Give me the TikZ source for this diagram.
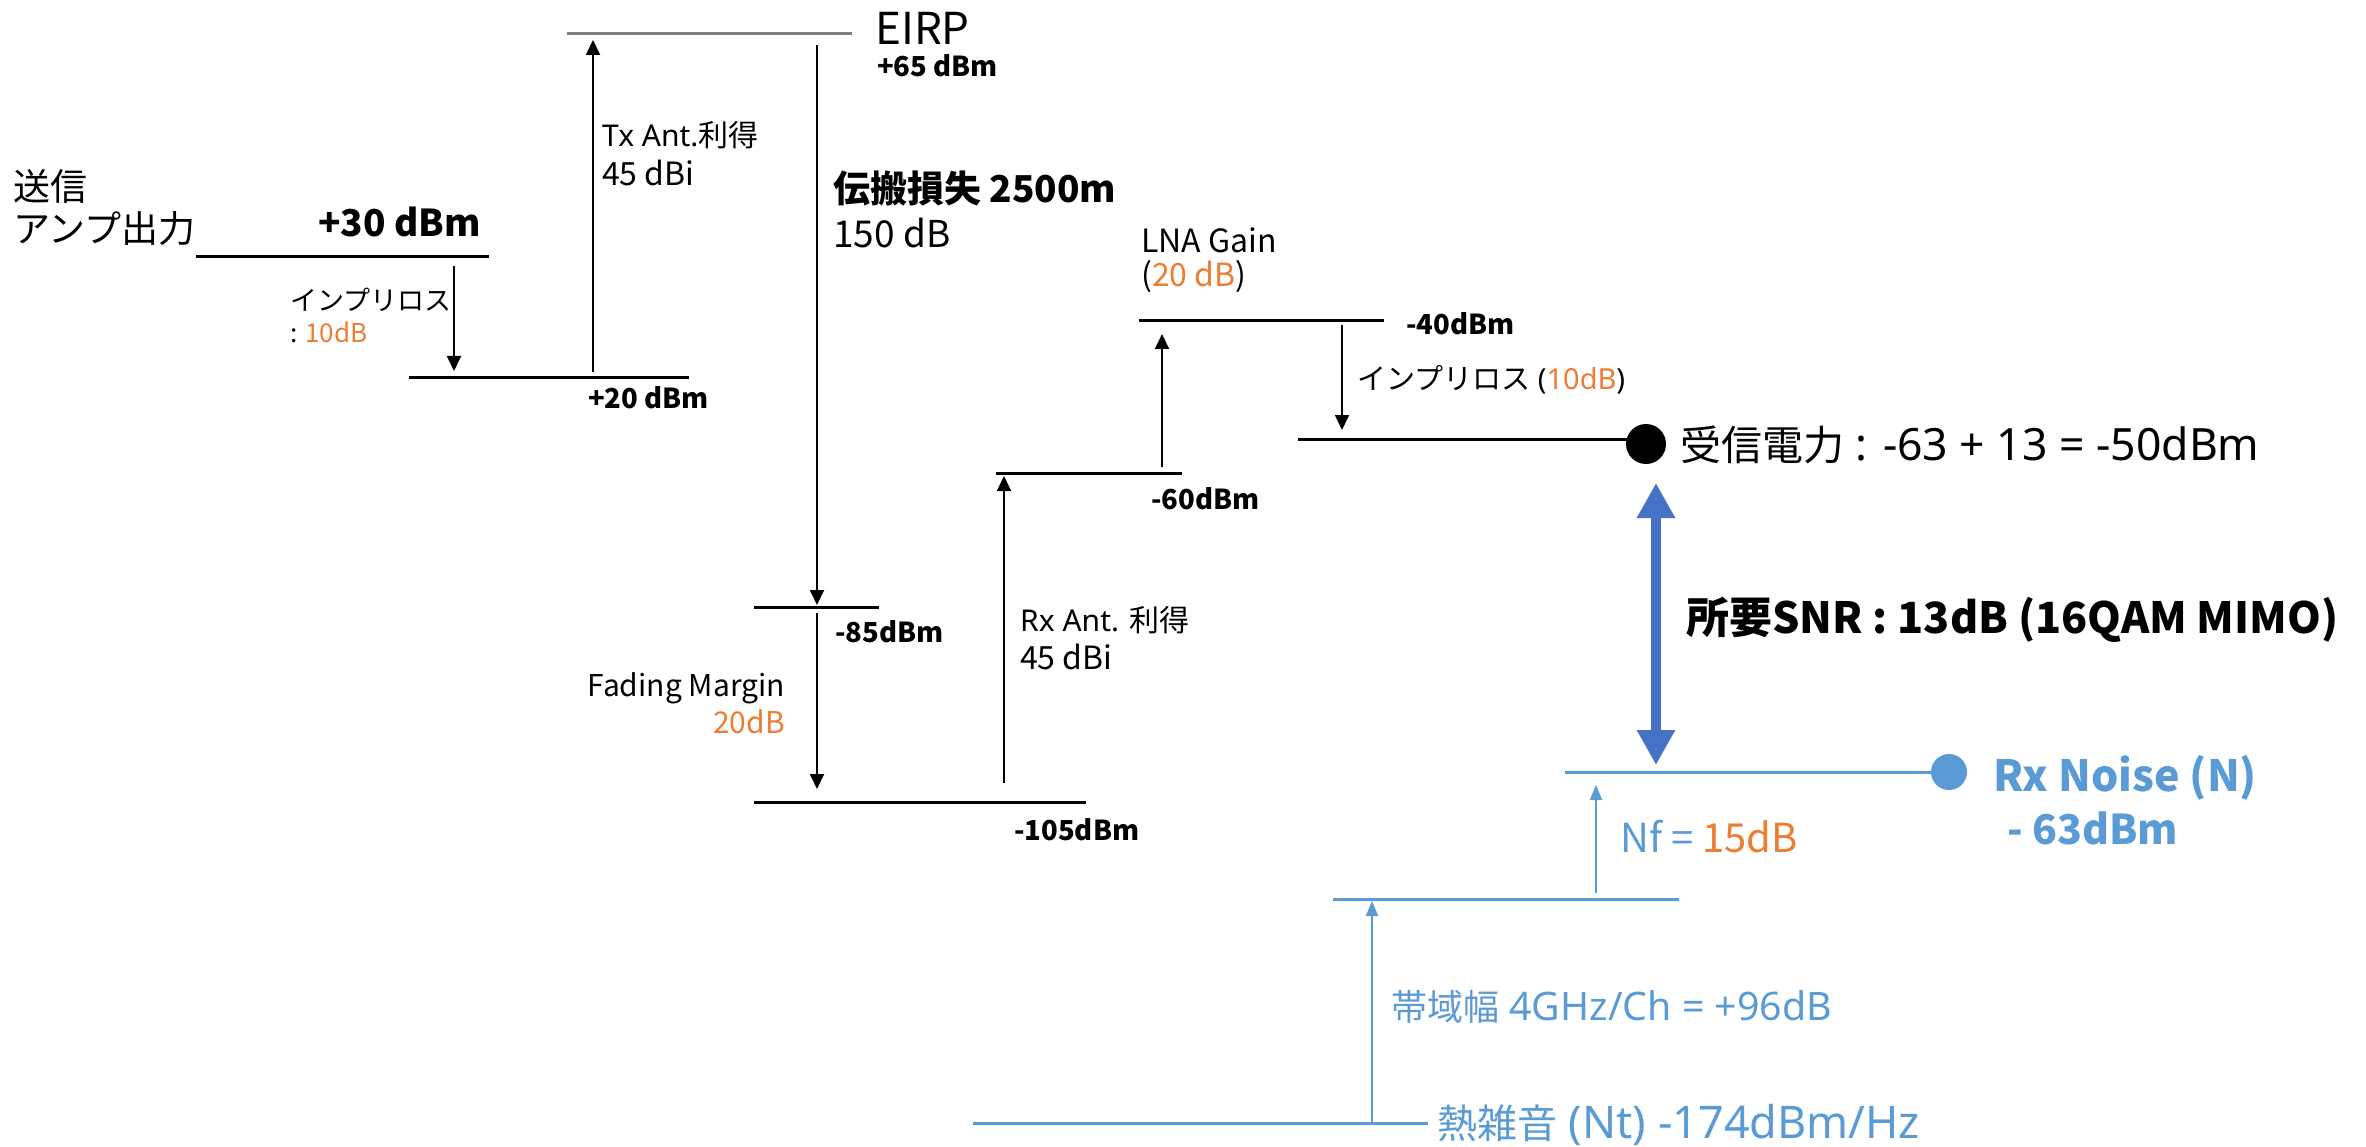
\documentclass[tikz,border=0pt]{standalone}
\usepackage{fontspec}
\setmainfont{Noto Sans CJK JP}
\newfontfamily\lat{Noto Sans}
\usetikzlibrary{arrows.meta}
\definecolor{orng}{HTML}{ED7D31}
\definecolor{lblue}{HTML}{5B9BD5}
\definecolor{dblue}{HTML}{4472C4}
\definecolor{lvgray}{HTML}{808080}
\newcommand{\myfs}[1]{\fontsize{#1}{#1}\selectfont}
\begin{document}
\begin{tikzpicture}[x=1pt,y=-1pt,
  level/.style={line width=3pt},
  blevel/.style={line width=3pt, draw=lblue},
  arr/.style={line width=1.8pt,-{Triangle[length=15pt,width=14pt]}},
  barr/.style={line width=1.8pt,draw=lblue,-{Triangle[length=15pt,width=12pt]}},
  lw/.style={inner sep=0pt, anchor=west},
  le/.style={inner sep=0pt, anchor=east},
  lvl/.style={font=\myfs{27.5}\bfseries},
  blu/.style={text=lblue}
]
\useasboundingbox (0,0) rectangle (2366,1147);

% level lines
\coordinate (l1a) at (196,257); \coordinate (l1b) at (489,257);
\coordinate (l2a) at (409,378); \coordinate (l2b) at (689,378);
\coordinate (ea) at (567,34);   \coordinate (eb) at (852,34);
\coordinate (l3a) at (754,607); \coordinate (l3b) at (879,607);
\coordinate (l4a) at (754,802); \coordinate (l4b) at (1086,802);
\coordinate (l5a) at (996,473); \coordinate (l5b) at (1182,473);
\coordinate (l6a) at (1139,321); \coordinate (l6b) at (1384,321);
\coordinate (l7a) at (1298,439);
\coordinate (l8a) at (1565,772);
\coordinate (l9a) at (1333,899); \coordinate (l9b) at (1679,899);
\coordinate (l10a) at (973,1123); \coordinate (l10b) at (1428,1123);

\draw[level] (l1a) -- (l1b);
\draw[level] (l2a) -- (l2b);
\draw[line width=3pt, draw=lvgray] (ea) -- (eb);
\draw[level] (l3a) -- (l3b);
\draw[level] (l4a) -- (l4b);
\draw[level] (l5a) -- (l5b);
\draw[level] (l6a) -- (l6b);
\node[circle, fill=black, minimum size=40pt, inner sep=0pt] (rxdot) at (1646,444) {};
\draw[level] (l7a) -- (l7a -| rxdot.center);
\node[circle, fill=lblue, minimum size=36pt, inner sep=0pt] (nzdot) at (1949,772) {};
\draw[blevel] (l8a) -- (nzdot.center);
\draw[blevel] (l9a) -- (l9b);
\draw[blevel] (l10a) -- (l10b);

% arrows
\coordinate (a1s) at (454,266);  \coordinate (a1e) at (454,371);
\coordinate (a2s) at (593,372);  \coordinate (a2e) at (593,40);
\coordinate (a3s) at (817,45);   \coordinate (a3e) at (817,605);
\coordinate (a4s) at (817,613);  \coordinate (a4e) at (817,789);
\coordinate (a5s) at (1004,783); \coordinate (a5e) at (1004,476);
\coordinate (a6s) at (1162,467); \coordinate (a6e) at (1162,334);
\coordinate (a7s) at (1342,325); \coordinate (a7e) at (1342,430);
\coordinate (sa) at (1656,483);  \coordinate (sb) at (1656,765);
\coordinate (a8s) at (1596,893); \coordinate (a8e) at (1596,785);
\coordinate (a9s) at (1372,1123); \coordinate (a9e) at (1372,901);

\draw[arr] (a1s) -- (a1e);
\draw[arr] (a2s) -- (a2e);
\draw[arr] (a3s) -- (a3e);
\draw[arr] (a4s) -- (a4e);
\draw[arr] (a5s) -- (a5e);
\draw[arr] (a6s) -- (a6e);
\draw[arr] (a7s) -- (a7e);
\draw[line width=10pt, draw=dblue, {Triangle[length=35pt,width=36pt]}-{Triangle[length=35pt,width=36pt]}] (sa) -- (sb);
\draw[barr] (a8s) -- (a8e);
\draw[barr] (a9s) -- (a9e);

% texts
\node[lw, font=\myfs{37}] (t1) at (13,186) {送信};
\node[lw, font=\myfs{37}] (t2) at (13,229) {アンプ出力};
\node[le, font=\myfs{37}\bfseries] (t3) at (481,222) {+30 dBm};
\node[lw, font=\myfs{27}] (t4) at (290,300) {インプリロス};
\node[lw, font=\myfs{26}] (t5) at (290,332) {: {\color{orng}10dB}};
\node[lw, lvl] (t6) at (588,398) {+20 dBm};
\node[lw, font=\myfs{30}] (t7) at (602,135) {{\lat Tx Ant.}利得};
\node[lw, font=\myfs{32}] (t8) at (602,173) {45 dBi};
\node[lw, font=\myfs{44}] (t9) at (875,28) {EIRP};
\node[lw, lvl] (t10) at (877,66) {+65 dBm};
\node[lw, font=\myfs{37}\bfseries] (t11) at (833,188) {伝搬損失 2500m};
\node[lw, font=\myfs{37}] (t12) at (833,233) {150 dB};
\node[lw, lvl] (t13) at (835,632) {-85dBm};
\node[le, font=\myfs{30}] (t14) at (785,688) {Fading Margin};
\node[le, font=\myfs{30}, text=orng] (t15) at (785,722) {20dB};
\node[lw, lvl] (t16) at (1014,830) {-105dBm};
\node[lw, font=\myfs{30}] (t17) at (1020,620) {{\lat Rx Ant. }利得};
\node[lw, font=\myfs{32}] (t18) at (1020,657) {45 dBi};
\node[lw, lvl] (t19) at (1151,499) {-60dBm};
\node[lw, font=\myfs{32}] (t20) at (1141,240) {LNA Gain};
\node[lw, font=\myfs{32}] (t21) at (1141,277) {({\color{orng}20 dB})};
\node[lw, lvl] (t22) at (1406,324) {-40dBm};
\node[lw, font=\myfs{29}] (t23) at (1357,380) {インプリロス{\lat{} ({\color{orng}10dB})}};
\node[lw, font=\myfs{41}] (t24) at (1680,445) {受信電力{\lat\myfs{44.5}{} : -63 + 13 = -50dBm}};
\node[lw, font=\myfs{43}\bfseries] (t25) at (1686,620) {所要SNR : 13dB (16QAM MIMO)};
\node[lw, font=\myfs{43}\bfseries, blu] (t26) at (1993,778) {Rx Noise (N)};
\node[lw, font=\myfs{41}\bfseries, blu] (t27) at (2007,828) {- 63dBm};
\node[lw, font=\myfs{40}, blu] (t28) at (1620,837) {Nf = {\color{orng}15dB}};
\node[lw, font=\myfs{36}, blu] (t29) at (1391,1007) {帯域幅{\lat\myfs{39.3}{} 4GHz/Ch = +96dB}};
\node[lw, font=\myfs{40}, blu] (t30) at (1437,1125) {熱雑音{\lat\myfs{45}{} (Nt) -174dBm/Hz}};
\end{tikzpicture}
\end{document}
